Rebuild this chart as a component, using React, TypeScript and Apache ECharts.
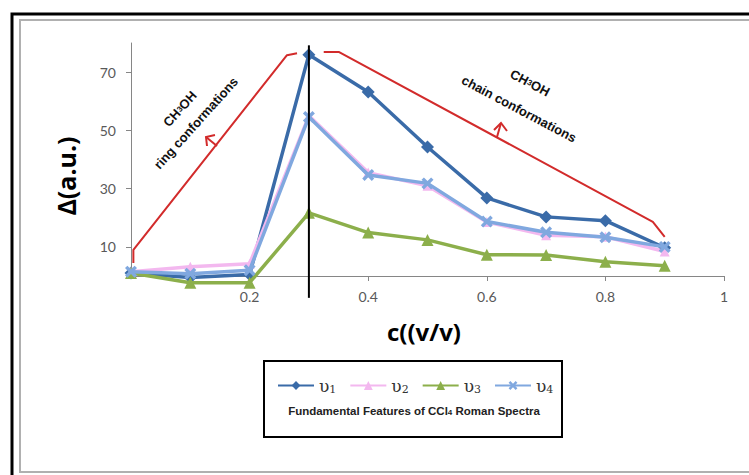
import React, { useEffect, useRef } from "react";
import * as echarts from "echarts";

const xValues = [0, 0.1, 0.2, 0.3, 0.4, 0.5, 0.6, 0.7, 0.8, 0.9];
const v1 = [1, -0.5, 0.5, 76, 63.2, 44.3, 26.8, 20.3, 19, 9.7];
const v2 = [1.5, 3.2, 4.2, 55, 35.5, 31, 18.5, 14, 13.5, 8.4];
const v3 = [1, -2.3, -2.3, 21.7, 14.9, 12.4, 7.3, 7.2, 4.9, 3.5];
const v4 = [1.5, 0.8, 2, 54.6, 34.7, 31.8, 18.7, 15, 13.3, 10];
const seriesNames = ["υ1", "υ2", "υ3", "υ4"];
const yTickValues = [10, 30, 50, 70];
const xTickValues = [0.2, 0.4, 0.6, 0.8, 1];
const ringArrowPath = [[0.004, 4.5], [0.004, 9], [0.263, 75.8], [0.28, 76.5]];
const chainArrowPath = [[0.325, 76.9], [0.351, 76.9], [0.88, 18.6], [0.9, 13.4]];
const markerLine = [[0.3, -7.5], [0.3, 79.2]];

const colors = ["#3A6BA8", "#F3B8EF", "#8CAF4B", "#80A8DF"];
const xSymbol = "path://M2,0 L5,3 L8,0 L10,2 L7,5 L10,8 L8,10 L5,7 L2,10 L0,8 L3,5 L0,2 Z";

export default function App() {
  const ref = useRef<HTMLDivElement>(null);
  useEffect(() => {
    document.body.style.margin = "0";
    const chart = echarts.init(ref.current!, null, { renderer: "svg" });
    const zip = (ys: number[]) => xValues.map((x, i) => [x, ys[i]]);
    const symbols = ["diamond", "triangle", "triangle", xSymbol];
    const sizes = [13, 10, 12, 12];
    const dataSets = [v1, v2, v3, v4];
    const main = dataSets.map((d, i) => ({
      name: seriesNames[i],
      type: "line",
      data: zip(d),
      symbol: symbols[i],
      symbolSize: sizes[i],
      clip: false,
      lineStyle: { color: colors[i], width: 3.5 },
      itemStyle: { color: colors[i] },
      z: 3 + i,
    }));
    const rich = {
      a: { fontFamily: "DejaVu Serif", fontSize: 17, color: "#333" },
      b: { fontFamily: "DejaVu Serif", fontSize: 11, color: "#333", padding: [8, 0, 0, 0] },
    };
    const annot = {
      fontFamily: "Liberation Sans",
      fontWeight: "bold",
      fontSize: 13,
      fill: "#111",
      align: "center",
      verticalAlign: "middle",
    };
    const sub = { s: { fontFamily: "Liberation Sans", fontWeight: "bold", fontSize: 8, fill: "#111" } };
    chart.setOption({
      animation: false,
      backgroundColor: "#fff",
      grid: { left: 131, right: 25, top: 43, bottom: 199, containLabel: false },
      xAxis: {
        type: "value",
        min: 0,
        max: 1,
        interval: 0.2,
        axisLine: { lineStyle: { color: "#868686", width: 1 } },
        axisTick: { show: true, length: 5, lineStyle: { color: "#868686" }, customValues: xTickValues },
        axisLabel: {
          customValues: xTickValues,
          color: "#595959",
          fontFamily: "Lato",
          fontSize: 14,
          margin: 13,
          formatter: (v: number) => String(Math.round(v * 10) / 10),
        },
        splitLine: { show: false },
      },
      yAxis: {
        type: "value",
        min: 0,
        max: 80,
        axisLine: { show: true, lineStyle: { color: "#868686", width: 1 } },
        axisTick: { show: true, length: 5, lineStyle: { color: "#868686" }, customValues: yTickValues },
        axisLabel: { customValues: yTickValues, color: "#595959", fontFamily: "Lato", fontSize: 14, margin: 15 },
        splitLine: { show: false },
      },
      legend: {
        data: seriesNames,
        left: 272,
        top: 372,
        itemWidth: 36,
        itemHeight: 11,
        itemGap: 13,
        formatter: (n: string) => `{a|υ}{b|${n.slice(1)}}`,
        textStyle: { rich },
      },
      series: [
        ...main,
        {
          type: "line",
          data: markerLine,
          symbol: "none",
          clip: false,
          silent: true,
          lineStyle: { color: "#000", width: 2 },
          z: 10,
        },
        {
          type: "line",
          data: ringArrowPath,
          symbol: "none",
          clip: false,
          silent: true,
          lineStyle: { color: "#D22B2B", width: 2 },
          z: 2,
        },
        {
          type: "line",
          data: chainArrowPath,
          symbol: "none",
          clip: false,
          silent: true,
          lineStyle: { color: "#D22B2B", width: 2 },
          z: 2,
        },
      ],
      graphic: [
        { type: "rect", shape: { x: 12, y: 14, width: 800, height: 500 }, style: { fill: "none", stroke: "#000", lineWidth: 3 }, z: -1 },
        { type: "rect", shape: { x: 20, y: 20, width: 800, height: 452 }, style: { fill: "none", stroke: "#B0B0B0", lineWidth: 2 }, z: -1 },
        { type: "rect", shape: { x: 264, y: 361, width: 298, height: 76 }, style: { fill: "none", stroke: "#000", lineWidth: 2 } },
        {
          type: "text",
          x: 414,
          y: 411,
          style: {
            text: "Fundamental Features of CCl{s|4} Roman Spectra",
            fontFamily: "Liberation Sans",
            fontWeight: "bold",
            fontSize: 11.5,
            fill: "#222",
            align: "center",
            verticalAlign: "middle",
            rich: { s: { fontFamily: "Liberation Sans", fontWeight: "bold", fontSize: 8, fill: "#222", padding: [3, 0, 0, 0] } },
          },
        },
        {
          type: "text",
          x: 424,
          y: 331,
          style: { text: "c((v/v)", fontFamily: "Open Sans", fontWeight: "bold", fontSize: 24, fill: "#000", align: "center", verticalAlign: "middle" },
        },
        {
          type: "text",
          x: 66,
          y: 176,
          rotation: Math.PI / 2,
          style: { text: "Δ(a.u.)", fontFamily: "Open Sans", fontWeight: "bold", fontSize: 25, fill: "#000", align: "center", verticalAlign: "middle" },
        },
        {
          type: "text",
          x: 180,
          y: 109,
          rotation: (48 * Math.PI) / 180,
          style: { ...annot, text: "CH{s|3}OH", rich: sub },
        },
        {
          type: "text",
          x: 196,
          y: 123,
          rotation: (48 * Math.PI) / 180,
          style: { ...annot, text: "ring conformations" },
        },
        {
          type: "text",
          x: 530,
          y: 83,
          rotation: (-28 * Math.PI) / 180,
          style: { ...annot, text: "CH{s|3}OH", rich: sub },
        },
        {
          type: "text",
          x: 519,
          y: 109,
          rotation: (-28 * Math.PI) / 180,
          style: { ...annot, text: "chain conformations" },
        },
        {
          type: "polyline",
          shape: { points: [[217, 146], [206, 137]] },
          style: { stroke: "#D22B2B", lineWidth: 2, fill: "none" },
        },
        {
          type: "polyline",
          shape: { points: [[215, 135], [206, 137], [207, 146]] },
          style: { stroke: "#D22B2B", lineWidth: 2, fill: "none" },
        },
        {
          type: "polyline",
          shape: { points: [[497, 137], [501, 123]] },
          style: { stroke: "#D22B2B", lineWidth: 2, fill: "none" },
        },
        {
          type: "polyline",
          shape: { points: [[494, 130], [501, 123], [507, 131]] },
          style: { stroke: "#D22B2B", lineWidth: 2, fill: "none" },
        },
      ],
    });
    return () => chart.dispose();
  }, []);
  return <div ref={ref} style={{ position: "fixed", left: 0, top: 0, width: 749, height: 475 }} />;
}
